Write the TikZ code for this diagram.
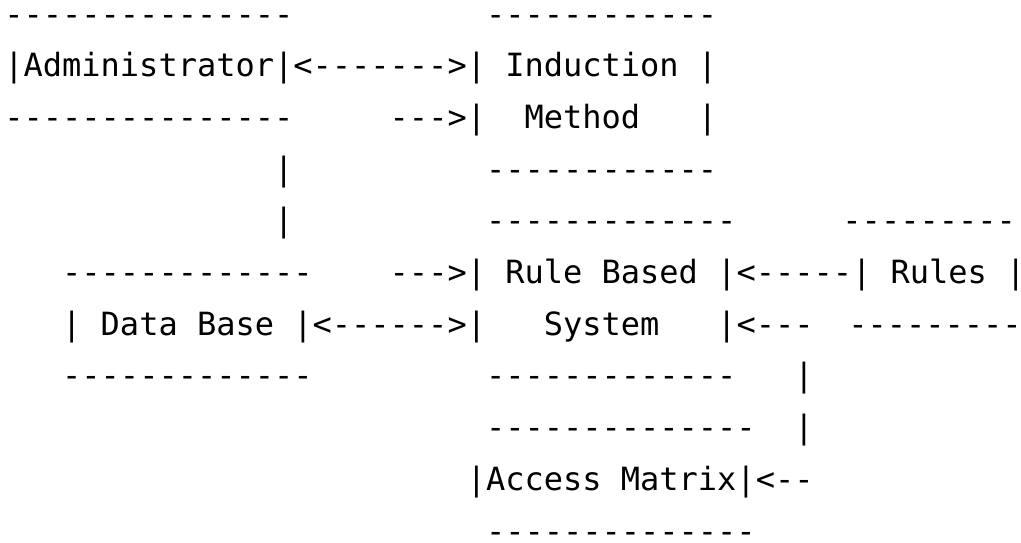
\documentclass[tikz,border=0pt]{standalone}
\usepackage{fontspec}
\setmonofont{DejaVu Sans Mono}
\tikzset{
  ascii/.style={anchor=base west, inner sep=0pt, outer sep=0pt,
    font=\ttfamily\fontsize{32pt}{32pt}\selectfont, text=black}
}
% \asc{name}{row}{column}{text}
\newcommand\asc[4]{\node[ascii] (#1) at ({4.4pt+#3*19.266pt},{-25pt-(#2-1)*51.7pt}) {#4};}
\begin{document}
\begin{tikzpicture}
\useasboundingbox (0,0) rectangle (1021pt,-542pt);
% row 1
\asc{admtop}{1}{0}{---------------}
\asc{indtop}{1}{25}{------------}
% row 2
\asc{adm}{2}{0}{|Administrator|}
\asc{admind}{2}{15}{<------->}
\asc{ind}{2}{24}{|\ Induction\ |}
% row 3
\asc{admbot}{3}{0}{---------------}
\asc{arrthree}{3}{20}{--->}
\asc{meth}{3}{24}{|\ \ Method\ \ \ |}
% row 4
\asc{vone}{4}{14}{|}
\asc{indbot}{4}{25}{------------}
% row 5
\asc{vtwo}{5}{14}{|}
\asc{rbtop}{5}{25}{-------------}
\asc{rultop}{5}{43.5}{---------}
% row 6
\asc{dbtop}{6}{3}{-------------}
\asc{arrsix}{6}{20}{--->}
\asc{rbone}{6}{24}{|\ Rule\ Based\ |}
\asc{arrsixb}{6}{38}{<-----}
\asc{rul}{6}{44}{|\ Rules\ |}
% row 7
\asc{db}{7}{3}{|\ Data\ Base\ |}
\asc{dbrb}{7}{16}{<------>}
\asc{rbtwo}{7}{24}{|\ \ \ System\ \ \ |}
\asc{arrseven}{7}{38}{<---}
\asc{rulbot}{7}{43.8}{---------}
% row 8
\asc{dbbot}{8}{3}{-------------}
\asc{rbbot}{8}{25}{-------------}
\asc{vthree}{8}{41}{|}
% row 9
\asc{amtop}{9}{25}{--------------}
\asc{vfour}{9}{41}{|}
% row 10
\asc{am}{10}{24}{|Access\ Matrix|}
\asc{arrten}{10}{39}{<--}
% row 11
\asc{ambot}{11}{25}{--------------}
\end{tikzpicture}
\end{document}
